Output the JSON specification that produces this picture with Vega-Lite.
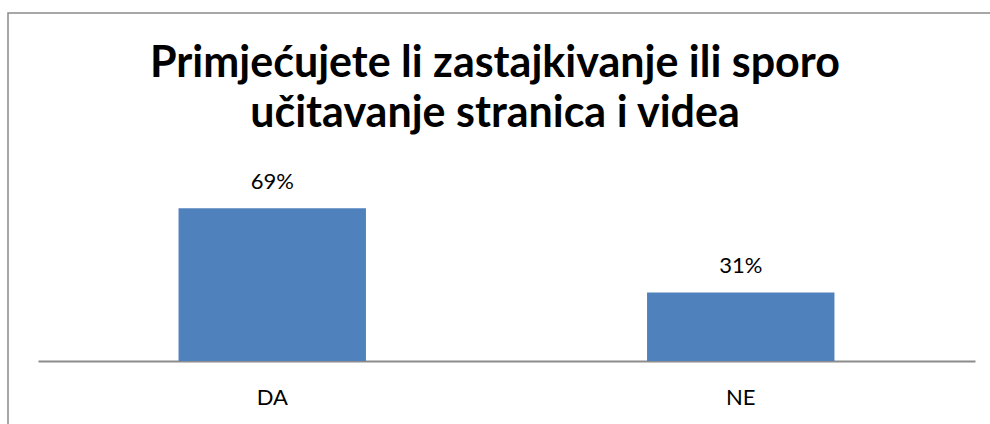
{
  "$schema": "https://vega.github.io/schema/vega-lite/v6.json",
  "usermeta": {"embedOptions": {"actions": false}},
  "autosize": "none",
  "width": 1002,
  "height": 431,
  "padding": {"left": 8, "top": 13, "right": -20, "bottom": -20},
  "background": "white",
  "config": {
    "view": {"stroke": "#8a8a8a", "strokeWidth": 1.5},
    "font": "Lato"
  },
  "title": {
    "text": ["Primjećujete li zastajkivanje ili sporo", "učitavanje stranica i videa"],
    "orient": "top",
    "anchor": "middle",
    "frame": "group",
    "baseline": "top",
    "offset": -30,
    "dx": -14,
    "dy": 93,
    "font": "Lato",
    "fontSize": 43,
    "fontWeight": "bold",
    "color": "#000000",
    "lineHeight": 50
  },
  "data": {
    "values": [
      {"odgovor": "DA", "udio": 0.69},
      {"odgovor": "NE", "udio": 0.31}
    ]
  },
  "encoding": {
    "x": {
      "field": "odgovor",
      "type": "nominal",
      "sort": null,
      "scale": {"range": [30, 967], "paddingInner": 0.6, "paddingOuter": 0.3},
      "axis": {
        "title": null,
        "orient": "bottom",
        "offset": -83,
        "ticks": false,
        "labelAngle": 0,
        "labelPadding": 26,
        "labelFont": "Lato",
        "labelFontSize": 22,
        "labelColor": "#000000",
        "domainColor": "#8c8c8c",
        "domainWidth": 2,
        "grid": false
      }
    },
    "y": {
      "field": "udio",
      "type": "quantitative",
      "scale": {"domain": [0, 0.8], "range": [348, 171]},
      "axis": null
    }
  },
  "layer": [
    {"mark": {"type": "bar", "color": "#4f81bd"}},
    {
      "mark": {"type": "text", "baseline": "alphabetic", "dy": -19, "fontSize": 22, "font": "Lato", "color": "#000000"},
      "encoding": {"text": {"field": "udio", "type": "quantitative", "format": ".0%"}}
    }
  ]
}
